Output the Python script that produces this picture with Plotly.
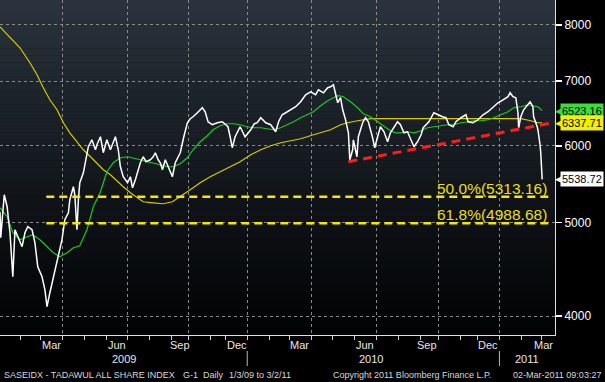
import math
import plotly.graph_objects as go

# ---------------- data ----------------
price_dates = [
    "2009-01-03", "2009-01-04", "2009-01-09", "2009-01-13", "2009-01-17", "2009-01-21", "2009-01-24", "2009-01-28",
    "2009-02-03", "2009-02-07", "2009-02-11", "2009-02-17", "2009-02-21", "2009-02-25",
    "2009-03-03", "2009-03-07", "2009-03-10", "2009-03-14", "2009-03-19", "2009-03-24", "2009-03-28", "2009-03-31",
    "2009-04-04", "2009-04-09", "2009-04-11", "2009-04-16", "2009-04-18", "2009-04-21", "2009-04-23", "2009-04-25", "2009-04-30",
    "2009-05-04", "2009-05-07", "2009-05-12", "2009-05-17", "2009-05-19", "2009-05-24", "2009-05-28", "2009-05-31",
    "2009-06-02", "2009-06-07", "2009-06-11", "2009-06-14", "2009-06-18", "2009-06-21", "2009-06-25",
    "2009-07-01", "2009-07-05", "2009-07-08", "2009-07-12", "2009-07-15", "2009-07-19", "2009-07-23", "2009-07-27",
    "2009-08-02", "2009-08-06", "2009-08-09", "2009-08-13", "2009-08-16", "2009-08-19", "2009-08-23", "2009-08-27",
    "2009-09-02", "2009-09-06", "2009-09-10", "2009-09-13", "2009-09-25", "2009-09-30",
    "2009-10-04", "2009-10-08", "2009-10-14", "2009-10-21", "2009-10-25", "2009-10-29",
    "2009-11-04", "2009-11-11", "2009-11-18",
    "2009-12-05", "2009-12-08", "2009-12-11", "2009-12-15", "2009-12-22", "2009-12-29",
    "2010-01-06", "2010-01-11", "2010-01-15", "2010-01-20", "2010-01-27",
    "2010-02-03", "2010-02-10", "2010-02-14", "2010-02-19", "2010-02-24",
    "2010-03-03", "2010-03-10", "2010-03-17", "2010-03-24", "2010-03-31",
    "2010-04-07", "2010-04-11", "2010-04-18", "2010-04-24", "2010-04-28",
    "2010-05-02", "2010-05-05", "2010-05-08", "2010-05-12", "2010-05-15", "2010-05-19", "2010-05-23", "2010-05-25", "2010-05-29", "2010-05-30",
    "2010-06-04", "2010-06-06", "2010-06-12", "2010-06-16", "2010-06-20", "2010-06-26", "2010-06-29",
    "2010-07-03", "2010-07-07", "2010-07-12", "2010-07-17", "2010-07-21", "2010-07-26", "2010-07-31",
    "2010-08-04", "2010-08-09", "2010-08-14", "2010-08-18", "2010-08-23", "2010-08-28",
    "2010-09-02", "2010-09-05", "2010-09-18", "2010-09-25", "2010-09-30",
    "2010-10-07", "2010-10-12", "2010-10-16", "2010-10-22", "2010-10-26",
    "2010-11-02", "2010-11-09", "2010-11-12", "2010-11-25",
    "2010-12-02", "2010-12-09", "2010-12-16", "2010-12-23", "2010-12-30",
    "2011-01-06", "2011-01-13", "2011-01-16", "2011-01-20", "2011-01-24", "2011-01-27", "2011-01-28", "2011-01-31",
    "2011-02-04", "2011-02-10", "2011-02-13", "2011-02-17", "2011-02-18", "2011-02-23", "2011-02-24", "2011-02-27",
    "2011-02-28", "2011-03-02",
]
price_vals = [
    5127, 4820, 5339, 5189, 4877, 4392, 4912, 4831,
    4718, 4877, 4948, 4912, 4763, 4498,
    4392, 4259, 4090, 4228, 4392, 4541, 4718, 4797,
    5031, 5115, 5276, 5442, 5339, 4912, 5276, 5494, 5626,
    5845, 5986, 6086, 5943, 6014, 6130, 5901, 6014,
    6086, 5943, 6057, 6130, 5943, 5707, 5573,
    5494, 5573, 5429, 5533, 5626, 5762, 5845, 5776,
    5803, 5845, 5901, 5803, 5762, 5667, 5803, 5707,
    5573, 5762, 5831, 5901, 6130, 6338,
    6399, 6429, 6491, 6568, 6506, 6353,
    6308, 6338, 6353,
    6278, 6130, 5972, 6130, 6278, 6130,
    6233, 6323, 6338, 6414, 6338,
    6308, 6203, 6353, 6460, 6491,
    6537, 6584, 6663, 6775, 6823,
    6775, 6856, 6807, 6889, 6905,
    6938, 6807, 6647, 6727, 6537, 6383, 6188, 5803, 5943, 6086,
    5845, 6130, 6338, 6414, 6353, 6115, 5972,
    6130, 6278, 6203, 6057, 6188, 6278, 6353,
    6308, 6188, 6203, 6115, 5986, 6057,
    6159, 6263, 6353, 6491, 6460,
    6429, 6414, 6308, 6278, 6353,
    6414, 6460, 6353, 6338,
    6383, 6460, 6506, 6584, 6647,
    6694, 6743, 6807, 6743, 6727, 6491, 6263, 6429,
    6537, 6615, 6663, 6584, 6429, 6278, 6233, 6014,
    5901, 5538.72,
]

green_dates = [
    "2009-01-03", "2009-01-13", "2009-01-21", "2009-01-31", "2009-02-10", "2009-02-18", "2009-02-28",
    "2009-03-10", "2009-03-19", "2009-03-28", "2009-04-07", "2009-04-16", "2009-04-25", "2009-05-05",
    "2009-05-14", "2009-05-24", "2009-06-02", "2009-06-11", "2009-06-21", "2009-07-01", "2009-07-09",
    "2009-07-19", "2009-07-29", "2009-08-06", "2009-08-16", "2009-08-26", "2009-09-03", "2009-09-13",
    "2009-09-30", "2009-10-08", "2009-10-18", "2009-10-28", "2009-11-05", "2009-11-15", "2009-11-24",
    "2009-12-13", "2009-12-22", "2010-01-01", "2010-01-10", "2010-01-20", "2010-01-29", "2010-02-07",
    "2010-02-17", "2010-02-27", "2010-03-07", "2010-03-17", "2010-03-27", "2010-04-04", "2010-04-14",
    "2010-04-24", "2010-05-02", "2010-05-09", "2010-05-16", "2010-05-26", "2010-06-05", "2010-06-13",
    "2010-06-23", "2010-07-03", "2010-07-12", "2010-07-21", "2010-07-28", "2010-08-04", "2010-08-14",
    "2010-08-23", "2010-09-02", "2010-09-16", "2010-09-25", "2010-10-05", "2010-10-14", "2010-10-23",
    "2010-11-02", "2010-11-12", "2010-11-26", "2010-12-06", "2010-12-16", "2010-12-24", "2011-01-03",
    "2011-01-13", "2011-01-21", "2011-01-31", "2011-02-10", "2011-02-18", "2011-02-24", "2011-03-02",
]
green_vals = [
    5177, 5067, 4877, 4797, 4831, 4854, 4797,
    4718, 4651, 4607, 4651, 4706, 4729, 4912,
    5189, 5378, 5640, 5762, 5831, 5845, 5831,
    5803, 5776, 5762, 5735, 5707, 5707, 5748,
    5831, 5943, 6057, 6145, 6233, 6293, 6323,
    6323, 6308, 6278, 6263, 6263, 6248, 6233,
    6263, 6308, 6353, 6414, 6460, 6506, 6599,
    6679, 6727, 6759, 6743, 6663, 6568, 6475,
    6429, 6353, 6278, 6218, 6188, 6188, 6203,
    6188, 6218, 6263, 6278, 6293, 6308, 6308,
    6338, 6353, 6368, 6368, 6383, 6414, 6460,
    6506, 6568, 6584, 6615, 6599, 6584, 6523.16,
]

yellow_dates = [
    "2009-01-03", "2009-01-17", "2009-01-31", "2009-02-14", "2009-02-24", "2009-03-04", "2009-03-14",
    "2009-03-24", "2009-04-02", "2009-04-11", "2009-04-21", "2009-04-30", "2009-05-10", "2009-05-19",
    "2009-05-28", "2009-06-07", "2009-06-17", "2009-06-25", "2009-07-05", "2009-07-15", "2009-07-23",
    "2009-08-06", "2009-08-20", "2009-09-02", "2009-09-13", "2009-10-04", "2009-10-18", "2009-11-01",
    "2009-11-15", "2009-12-08", "2009-12-22", "2010-01-06", "2010-01-20", "2010-02-03", "2010-02-17",
    "2010-03-03", "2010-03-17", "2010-04-04", "2010-04-28", "2010-05-12", "2010-05-22", "2010-06-05",
    "2010-06-23", "2010-07-17", "2010-08-14", "2010-09-21", "2010-10-23", "2010-12-06", "2011-01-13",
    "2011-01-31", "2011-02-14", "2011-02-24", "2011-03-02",
]
yellow_vals = [
    7965, 7778, 7577, 7311, 7105, 6905, 6694,
    6537, 6338, 6188, 6057, 5943, 5845, 5762,
    5667, 5600, 5507, 5442, 5365, 5301, 5251,
    5238, 5226, 5251, 5314, 5403, 5494, 5573,
    5640, 5707, 5776, 5873, 5943, 6000, 6043,
    6072, 6101, 6159, 6233, 6308, 6338, 6368,
    6399, 6399, 6399, 6399, 6399, 6399, 6399,
    6399, 6368, 6338, 6337.71,
]

fib_pct = ["50.0%", "61.8%"]
fib_vals = [5313.16, 4988.68]
fib_span = ["2009-03-09", "2011-03-14"]

trend_dates = ["2010-05-23", "2011-03-20"]
trend_vals = [5776, 6345]

# exchange holidays (Eid closures) hidden from the time axis
holiday_breaks = [
    ["2009-09-17", "2009-09-24"],
    ["2009-11-25", "2009-12-04"],
    ["2010-09-06", "2010-09-11"],
    ["2010-11-13", "2010-11-19"],
]

x_range = ["2009-01-03", "2011-03-20"]
y_ticks = [4000, 5000, 6000, 7000, 8000]
y_min, y_max = 3823, 8490

quarter_starts = ["2009-04-01", "2009-07-01", "2009-10-01", "2010-01-01",
                  "2010-04-01", "2010-07-01", "2010-10-01", "2011-01-01"]
month_labels = ["Mar", "Jun", "Sep", "Dec", "Mar", "Jun", "Sep", "Dec", "Mar"]
month_label_pos = ["2009-03-16", "2009-06-16", "2009-09-12", "2009-12-18", "2010-03-16",
                   "2010-06-16", "2010-09-16", "2010-12-16", "2011-03-04"]
year_labels = ["2009", "2010", "2011"]
year_label_pos = ["2009-06-26", "2010-06-24", "2011-02-08"]
year_separators = ["2010-01-01", "2011-01-01"]

tag_vals = [6523.16, 6337.71, 5538.72]
tag_colors = ["#3cdc3c", "#f0f000", "#ffffff"]

# ---------------- figure ----------------
FONT = "Liberation Sans, Arial, sans-serif"

PLOT_W, PLOT_H = 555, 335

fig = go.Figure()

fig.add_trace(go.Scatter(x=yellow_dates, y=yellow_vals, mode="lines",
                         line=dict(color="#d8c800", width=1.2), hoverinfo="skip"))
fig.add_trace(go.Scatter(x=green_dates, y=green_vals, mode="lines",
                         line=dict(color="#1ec81e", width=1.2), hoverinfo="skip"))
fig.add_trace(go.Scatter(x=price_dates, y=price_vals, mode="lines",
                         line=dict(color="#ffffff", width=1.5), hoverinfo="skip"))
for v in fib_vals:
    fig.add_trace(go.Scatter(x=fib_span, y=[v, v], mode="lines",
                             line=dict(color="#f5e800", width=2.6, dash="8px,5px"),
                             hoverinfo="skip"))
fig.add_trace(go.Scatter(x=trend_dates, y=trend_vals, mode="lines",
                         line=dict(color="#ff1c1c", width=3, dash="9px,6px"),
                         hoverinfo="skip"))

# background gradient bands inside plot area
shapes = []
n = 48
top_c = (42, 52, 62)
bot_c = (2, 3, 4)
for i in range(n):
    t = (i + 0.5) / n
    k = t ** 1.15
    c = tuple(int(round(bot_c[j] + (top_c[j] - bot_c[j]) * k)) for j in range(3))
    shapes.append(dict(type="rect", xref="paper", yref="paper", x0=0, x1=1,
                       y0=i / n, y1=(i + 1) / n, layer="below",
                       fillcolor="rgb(%d,%d,%d)" % c, line=dict(width=0)))
for d in year_separators:
    shapes.append(dict(type="line", xref="x", yref="paper", x0=d, x1=d,
                       y0=-16 / PLOT_H, y1=-31 / PLOT_H,
                       line=dict(color="#b8b8b8", width=1)))

annotations = []
for lab, pos in zip(month_labels, month_label_pos):
    annotations.append(dict(x=pos, xref="x", y=-10 / PLOT_H, yref="paper",
                            text=lab, showarrow=False, xanchor="center", yanchor="middle",
                            font=dict(family=FONT, size=11, color="#e8e8e8")))
for lab, pos in zip(year_labels, year_label_pos):
    annotations.append(dict(x=pos, xref="x", y=-24 / PLOT_H, yref="paper",
                            text=lab, showarrow=False, xanchor="center", yanchor="middle",
                            font=dict(family=FONT, size=11, color="#e8e8e8")))

for pct, v in zip(fib_pct, fib_vals):
    annotations.append(dict(x="2011-03-11", xref="x", y=math.log10(v), yref="y",
                            text="%s(%.2f)" % (pct, v), showarrow=False,
                            xanchor="right", yanchor="bottom", yshift=-2,
                            font=dict(family=FONT, size=15.5, color="#ecdf1c")))

for v, col in zip(tag_vals, tag_colors):
    annotations.append(dict(x=1, xref="paper", y=math.log10(v), yref="y",
                            text="◀", showarrow=False, xanchor="right", yanchor="middle",
                            xshift=8, borderpad=0,
                            font=dict(family="DejaVu Sans", size=9, color=col)))
    annotations.append(dict(x=1, xref="paper", y=math.log10(v), yref="y",
                            text="%.2f" % v, showarrow=False, xanchor="left", yanchor="middle",
                            xshift=5, bgcolor=col, borderpad=1,
                            font=dict(family=FONT, size=11, color="#000000")))

footer_y = -40 / PLOT_H
footer = [
    ("SASEIDX - TADAWUL ALL SHARE INDEX", 2, "left"),
    ("G-1", 181, "left"),
    ("Daily", 201, "left"),
    ("1/3/09 to 3/2/11", 227, "left"),
    ("Copyright 2011 Bloomberg Finance L.P.", 412, "center"),
    ("02-Mar-2011 09:03:27", 603, "right"),
]
for txt, px, anc in footer:
    annotations.append(dict(x=px / PLOT_W, xref="paper", y=footer_y, yref="paper",
                            text=txt, showarrow=False, xanchor=anc, yanchor="middle",
                            font=dict(family=FONT, size=9, color="#d8d8d8")))

fig.update_layout(
    width=605, height=382,
    margin=dict(l=0, r=50, t=0, b=47, pad=0),
    paper_bgcolor="#000000",
    plot_bgcolor="#0c1014",
    showlegend=False,
    shapes=shapes,
    annotations=annotations,
    xaxis=dict(
        type="date", range=x_range,
        rangebreaks=[dict(bounds=b) for b in holiday_breaks],
        tickmode="array", tickvals=quarter_starts, ticktext=[""] * len(quarter_starts),
        showgrid=True, gridcolor="#8a8a8a", griddash="dot", gridwidth=1,
        ticks="outside", ticklen=4, tickcolor="#d0d0d0",
        minor=dict(dtick="M1", tick0="2009-01-01", ticks="outside", ticklen=4,
                   tickcolor="#d0d0d0", showgrid=False),
        showline=True, linecolor="#e0e0e0", linewidth=1,
        zeroline=False, fixedrange=True,
    ),
    yaxis=dict(
        type="log", side="right",
        range=[math.log10(y_min), math.log10(y_max)],
        tickmode="array", tickvals=y_ticks, ticktext=[str(t) for t in y_ticks],
        showgrid=True, gridcolor="#8a8a8a", griddash="dot", gridwidth=1,
        ticks="outside", ticklen=6, tickwidth=1.5, tickcolor="#ffffff",
        tickfont=dict(family=FONT, size=12, color="#ffffff"),
        showline=True, linecolor="#e0e0e0", linewidth=1,
        zeroline=False, fixedrange=True,
    ),
)

fig.write_html(
    "out.html",
    config={"displayModeBar": False, "staticPlot": True},
    post_script="document.body.style.margin='0';document.body.style.padding='0';"
                "document.body.style.overflow='hidden';",
)
